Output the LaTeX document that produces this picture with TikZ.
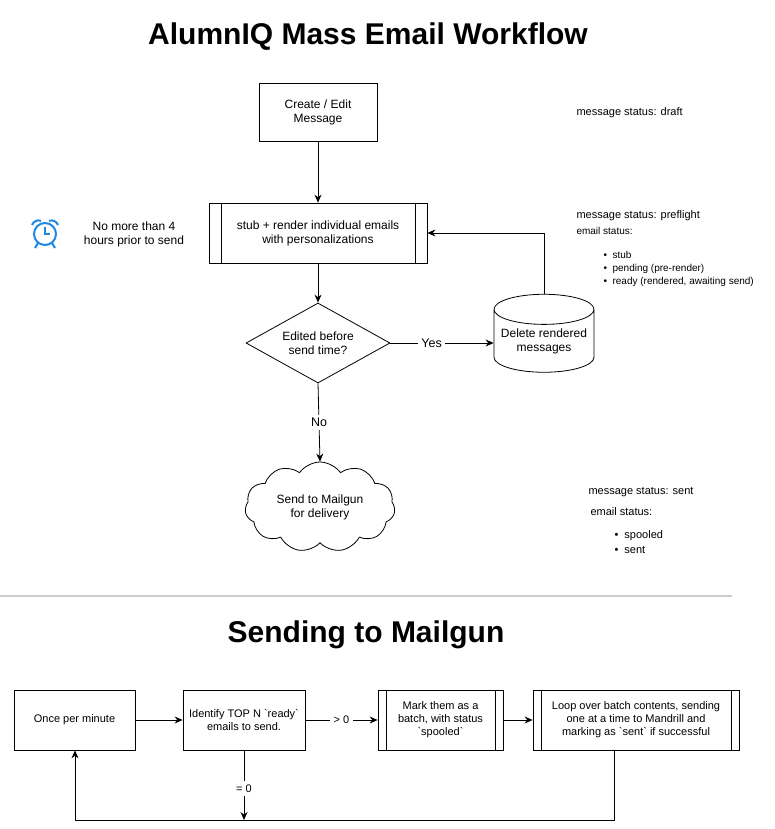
\documentclass[tikz,border=0pt]{standalone}
\usepackage{fontspec}
\setmainfont{Liberation Sans}
\usetikzlibrary{shapes.geometric,shapes.symbols,arrows.meta}
\newcommand{\bq}{\textasciigrave}
\begin{document}
\begin{tikzpicture}[x=1pt,y=-1pt,
  every node/.style={font=\fontsize{12}{14}\selectfont, align=center},
  box/.style={draw, thick, minimum width=#1, minimum height=60, inner sep=0},
  arr/.style={thick,-{Stealth[length=8pt,width=7pt]}},
  lbl/.style={font=\fontsize{12.5}{14}\selectfont},
  small/.style={font=\fontsize{11}{13}\selectfont, anchor=west, align=left},
  tiny/.style={font=\fontsize{10}{12}\selectfont, anchor=west, align=left},
  title/.style={font=\bfseries\fontsize{30}{34}\selectfont}]
\useasboundingbox (0,0) rectangle (774,829);
\node[title] (t1) at (368,37) {AlumnIQ Mass Email Workflow};
\node[box=118, minimum height=58] (create) at (318,112) {Create / Edit\\Message};
\node[box=218] (render) at (318,233) {stub + render individual emails\\with personalizations};
\draw[thick] (221,203) -- (221,263) (415,203) -- (415,263);
\node[draw,thick,diamond,aspect=1.8,minimum width=144,minimum height=80,inner sep=0] (dec) at (318,343) {Edited before\\send time?};
\node[draw,thick,cylinder,shape border rotate=90,aspect=0.35,minimum width=100,minimum height=78,inner sep=0] (cyl) at (544,341) {Delete rendered\\messages};
\node[draw,thick,cloud,cloud puffs=11,cloud puff arc=110,aspect=1.7,minimum width=150,minimum height=90,inner sep=0] (cloud) at (320,507) {Send to Mailgun\\for delivery};
\draw[arr] (create) -- (render);
\draw[arr] (render) -- (dec);
\draw[arr] (dec.east) -- node[lbl,fill=white,pos=0.4]{Yes} (dec.east -| cyl.west);
\draw[arr] (cyl.north) |- (render.east);
\draw[arr] (dec.south) -- node[lbl,fill=white,pos=0.5]{No} (cloud.north);
% alarm
\begin{scope}[shift={(45,234)},draw={rgb,255:red,30;green,136;blue,229},line width=2pt]
\node[draw=none,inner sep=0] (alarm) at (0,0) {};
\draw (0,0) circle (11);
\draw (0,-7) -- (0,0) -- (5,0);
\draw (-13,-9) arc (200:290:7);
\draw (13,-9) arc (-20:-110:7);
\draw (-7,9) -- (-10,14) (7,9) -- (10,14);
\end{scope}
\node (alarmtxt) at (134,234) {No more than 4\\hours prior to send};
% right texts
\node[small] (s1) at (573,113) {message status: draft};
\node[small] (s2) at (573,216) {message status: preflight};
\node[tiny] (s3) at (573,231) {email status:};
\node[tiny] (s4) at (600,255) {\textbullet\ \ stub};
\node[tiny] (s5) at (600,269) {\textbullet\ \ pending (pre-render)};
\node[tiny] (s6) at (600,282) {\textbullet\ \ ready (rendered, awaiting send)};
\node[small] (s7) at (585,492) {message status: sent};
\node[small] (s8) at (587,512) {email status:};
\node[small] (s9) at (611,536) {\textbullet\ \ spooled};
\node[small] (s10) at (611,550) {\textbullet\ \ sent};
\draw[line width=1.5pt,black!20] (0,596) -- (732,596);
\node[title] (t2) at (366,635) {Sending to Mailgun};
% bottom
\node[box=121,font=\fontsize{11}{13}\selectfont] (b1) at (74.5,720) {Once per minute};
\node[box=122,font=\fontsize{11}{13}\selectfont] (b2) at (244,720) {Identify TOP N \bq ready\bq\\emails to send.};
\node[box=125,font=\fontsize{11}{13}\selectfont] (b3) at (440.5,720) {Mark them as a\\batch, with status\\\bq spooled\bq};
\draw[thick] (386,690) -- (386,750) (495,690) -- (495,750);
\node[box=206,font=\fontsize{11}{13}\selectfont] (b4) at (636,720) {Loop over batch contents, sending\\one at a time to Mandrill and\\marking as \bq sent\bq\ if successful};
\draw[thick] (541,690) -- (541,750) (731,690) -- (731,750);
\coordinate (c1) at (614,820);
\coordinate (c2) at (75,820);
\coordinate (c3) at (244,820);
\draw[arr] (b1) -- (b2);
\draw[arr] (b2) -- node[lbl,fill=white,font=\fontsize{11}{13}\selectfont]{> 0} (b3);
\draw[arr] (b3) -- (b4);
\draw[arr] (b4.south -| c1) -- (c1) -- (c2) -- (b1.south -| c2);
\draw[arr] (b2.south) -- node[fill=white,font=\fontsize{11}{13}\selectfont,pos=0.55]{= 0} (c3);
\end{tikzpicture}
\end{document}
